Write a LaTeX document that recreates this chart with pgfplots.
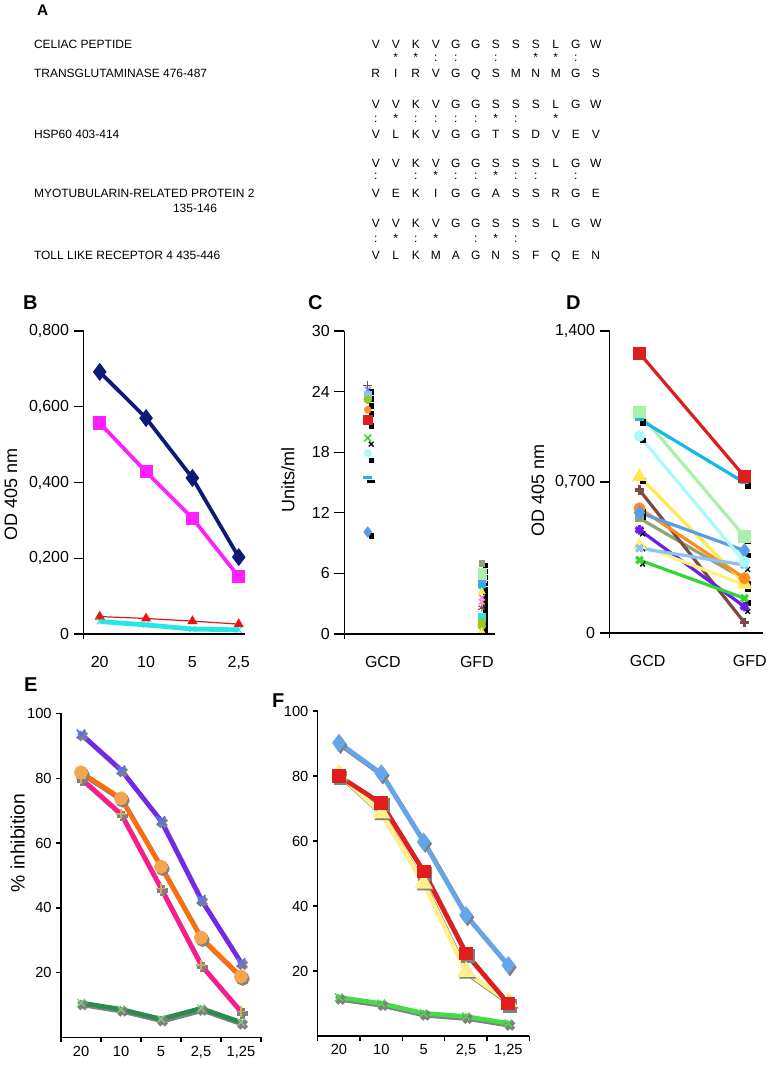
\documentclass[border=0pt]{standalone}
\usepackage{fontspec}
\setmainfont{Liberation Sans}
\usepackage{pgfplots}
\usepackage{pgfplotstable}
\pgfplotsset{compat=1.18}

% colours
\definecolor{bnavy}{RGB}{15,25,120}
\definecolor{bmag}{RGB}{255,30,255}
\definecolor{bred}{RGB}{230,20,20}
\definecolor{bcyan}{RGB}{40,230,230}
\definecolor{cred}{RGB}{220,30,30}
\definecolor{cpgreen}{RGB}{170,240,170}
\definecolor{cdsky}{RGB}{20,185,235}
\definecolor{cpcyan}{RGB}{170,250,250}
\definecolor{cyell}{RGB}{255,232,80}
\definecolor{cbrown}{RGB}{125,75,65}
\definecolor{corange}{RGB}{255,140,30}
\definecolor{ccorn}{RGB}{90,155,235}
\definecolor{colive}{RGB}{140,165,115}
\definecolor{cpurp}{RGB}{105,30,230}
\definecolor{clyel}{RGB}{255,242,130}
\definecolor{csky}{RGB}{140,195,245}
\definecolor{clime}{RGB}{50,215,50}
\definecolor{cygreen}{RGB}{150,200,40}
\definecolor{cpink}{RGB}{250,140,200}
\definecolor{cviolet}{RGB}{130,130,255}
\definecolor{epurp}{RGB}{115,40,235}
\definecolor{epurpm}{RGB}{90,110,255}
\definecolor{eorange}{RGB}{255,110,10}
\definecolor{eorangem}{RGB}{245,165,80}
\definecolor{epink}{RGB}{255,25,140}
\definecolor{epinkm}{RGB}{210,170,90}
\definecolor{egreen}{RGB}{40,140,80}
\definecolor{egreenm}{RGB}{120,210,120}
\definecolor{fblue}{RGB}{100,165,235}
\definecolor{fred}{RGB}{225,30,30}
\definecolor{fyell}{RGB}{255,240,140}
\definecolor{fgreen}{RGB}{70,220,70}
\definecolor{shadowgray}{RGB}{128,128,128}

\pgfplotsset{
  panel/.style={
    scale only axis, anchor=south west, clip=false,
    axis lines=left, axis line style={-, line width=1pt},
    tick align=outside, major tick length=7.5pt,
    ytick style={draw=black, line width=1pt},
    xtick style={draw=none},
    /pgf/number format/assume math mode=true,
    ticklabel style={font=\fontsize{12}{12}\selectfont},
    label style={font=\fontsize{13.5}{14}\selectfont},
  },
  top/.style={
    x axis line style={shorten <=-7.5pt},
    y axis line style={shorten <=-4pt},
  },
  small/.style={
    major tick length=3.5pt,
    ticklabel style={font=\fontsize{11}{11}\selectfont},
    xtick={0,1,2,3,4,5}, xticklabels={},
    xtick style={draw=black, line width=1pt},
    extra x ticks={0.5,1.5,2.5,3.5,4.5},
    extra x tick labels={20,10,5,{2,5},{1,25}},
    extra x tick style={major tick length=0pt, xticklabel style={yshift=-3pt}},
    xmin=0, xmax=5, ymin=0, ymax=100,
    ytick={20,40,60,80,100},
  },
  shadow/.style={draw=shadowgray, xshift=1.2pt, yshift=-1.6pt, line width=3.4pt,
    mark options={draw=shadowgray, fill=shadowgray}},
}

\pgfplotstableread{
x purple orange pink green
0.5 93.7 81.8 80.0 10.7
1.5 82.6 73.8 69.0 8.7
2.5 66.9 52.7 46.0 5.7
3.5 42.6 30.8 22.4 9.0
4.5 23.1 18.8 8.0 4.7
}\Etab

\pgfplotstableread{
x blue red yellow green
0.5 90.2 80.0 80.6 11.9
1.5 80.8 71.6 68.6 10.0
2.5 59.8 50.6 47.0 7.0
3.5 37.2 25.4 19.8 6.0
4.5 21.8 10.0 10.6 3.9
}\Ftab

\begin{document}
\begin{tikzpicture}
\path (0,0) rectangle (574.5pt,802.5pt);

% ---------- panel A (alignment text), pixel coordinates, y down
\begin{scope}[x=0.75pt, y=-0.75pt, yshift=802.5pt,
  every node/.style={inner sep=0pt, anchor=base, font=\fontsize{9}{10}\selectfont}]
\node[anchor=base west, font=\fontsize{11.5}{12}\selectfont\bfseries] at (34,16) {A};
\node[anchor=base west] at (31,49) {CELIAC PEPTIDE};
\node[anchor=base west] at (31,78) {TRANSGLUTAMINASE 476-487};
\node[anchor=base west] at (31,139) {HSP60 403-414};
\node[anchor=base west] at (31,198) {MYOTUBULARIN-RELATED PROTEIN 2};
\node[anchor=base west] at (170,213) {135-146};
\node[anchor=base west] at (31,260) {TOLL LIKE RECEPTOR 4 435-446};
\foreach \yy/\seq in {49/{V,V,K,V,G,G,S,S,S,L,G,W},
                      78/{R,I,R,V,G,Q,S,M,N,M,G,S},
                      109/{V,V,K,V,G,G,S,S,S,L,G,W},
                      139/{V,L,K,V,G,G,T,S,D,V,E,V},
                      168/{V,V,K,V,G,G,S,S,S,L,G,W},
                      198/{V,E,K,I,G,G,A,S,S,R,G,E},
                      228/{V,V,K,V,G,G,S,S,S,L,G,W},
                      260/{V,L,K,M,A,G,N,S,F,Q,E,N}}{
  \foreach \c [count=\i] in \seq {\node at ({373+20*(\i-1)},\yy) {\c};}
}
\foreach \yy/\marks in {62/{2/*,3/*,4/:,5/:,7/:,9/*,10/*,11/:},
                        123/{1/:,2/*,3/:,4/:,5/:,6/:,7/*,8/:,10/*},
                        180/{1/:,3/:,4/*,5/:,6/:,7/*,8/:,9/:,11/:},
                        243/{1/:,2/*,3/:,4/*,6/:,7/*,8/:}}{
  \foreach \p/\s in \marks {\node at ({373+20*(\p-1)},\yy) {\s};}
}
\node[anchor=base west, font=\fontsize{15}{15}\selectfont\bfseries] at (20,310) {B};
\node[anchor=base west, font=\fontsize{15}{15}\selectfont\bfseries] at (305,310) {C};
\node[anchor=base west, font=\fontsize{15}{15}\selectfont\bfseries] at (563,310) {D};
\node[anchor=base west, font=\fontsize{15}{15}\selectfont\bfseries] at (21,692) {E};
\node[anchor=base west, font=\fontsize{15}{15}\selectfont\bfseries] at (269,708) {F};
\end{scope}

% ---------- panel B
\begin{axis}[panel, top, at={(60.75pt,327pt)}, width=120.75pt, height=227.25pt,
  xmin=0.655, xmax=4.13, ymin=0, ymax=0.8,
  xtick={1,2,3,4}, xticklabels={20,10,5,{2,5}},
  xticklabel style={yshift=-6pt},
  ytick={0,0.2,0.4,0.6,0.8}, yticklabels={0,{0,200},{0,400},{0,600},{0,800}},
  ylabel={OD 405 nm},
  ylabel style={at={(axis description cs:-0.453,0.459)}, anchor=center}]
\addplot[bred, line width=0.9pt, mark=triangle*, mark size=3.5pt] coordinates {(1,0.046)(2,0.041)(3,0.034)(4,0.026)};
\addplot[bcyan, line width=3.6pt, mark=x, mark size=3pt, mark options={line width=0.8pt}] coordinates {(1,0.033)(2,0.024)(3,0.013)(4,0.011)};
\addplot[bmag, line width=2.8pt, mark=square*, mark size=3.5pt] coordinates {(1,0.557)(2,0.428)(3,0.306)(4,0.151)};
\addplot[bnavy, line width=2.8pt, mark=diamond*, mark size=4.5pt] coordinates {(1,0.692)(2,0.570)(3,0.412)(4,0.203)};
\end{axis}

% ---------- panel C
\begin{axis}[panel, top, at={(256.3pt,327pt)}, width=113.25pt, height=227.25pt,
  xmin=0.796, xmax=2.12, ymin=0, ymax=30,
  xtick={1.132,1.957}, xticklabels={GCD,GFD},
  xticklabel style={yshift=-6pt},
  ytick={0,6,12,18,24,30},
  ylabel={Units/ml},
  ylabel style={at={(axis description cs:-0.375,0.508)}, anchor=center}]
% black shadow marks
\addplot[only marks, black, mark=square*, mark size=1.7pt] coordinates {
(1.03,24.0)(1.03,23.3)(1.03,22.6)(1.03,21.8)(1.03,20.6)(1.03,17.2)(1.03,9.7)
(2.03,6.8)(2.03,6.2)(2.03,5.6)(2.03,5.0)(2.03,4.4)(2.03,3.8)(2.03,3.2)(2.03,2.6)(2.03,2.0)(2.03,1.4)(2.03,0.8)(2.03,0.2)};
\addplot[only marks, black, mark=x, mark size=2.5pt, mark options={line width=1pt}] coordinates {(1.03,18.8)};
\addplot[only marks, black, mark=-, mark size=3pt, mark options={line width=2pt}] coordinates {(1.03,15.1)};
% GCD
\addplot[only marks, cbrown, mark=+, mark size=3.5pt, mark options={line width=1pt}] coordinates {(1,24.6)};
\addplot[only marks, cviolet, mark=x, mark size=3pt, mark options={line width=1pt}] coordinates {(1,24.2)};
\addplot[only marks, csky, mark=square*, mark size=2.5pt] coordinates {(1,23.7)};
\addplot[only marks, cygreen, mark=*, mark size=3pt] coordinates {(1,23.2)};
\addplot[only marks, corange, mark=*, mark size=2.6pt] coordinates {(1,22.2)};
\addplot[only marks, cred, mark=square*, mark size=3.2pt] coordinates {(1,21.2)};
\addplot[only marks, clime, mark=x, mark size=3.5pt, mark options={line width=1.2pt}] coordinates {(1,19.4)};
\addplot[only marks, cpcyan, mark=*, mark size=2.8pt] coordinates {(1,17.9)};
\addplot[only marks, cdsky, mark=-, mark size=3.5pt, mark options={line width=2.4pt}] coordinates {(1,15.5)};
\addplot[only marks, ccorn, mark=diamond*, mark size=4pt] coordinates {(1,10.1)};
% GFD
\addplot[only marks, colive, mark=square*, mark size=2pt] coordinates {(2,7.0)};
\addplot[only marks, cpgreen, mark=square*, mark size=3pt] coordinates {(2,6.1)(2,5.5)};
\addplot[only marks, ccorn, mark=square*, mark size=2.6pt] coordinates {(2,5.0)};
\addplot[only marks, cdsky, mark=*, mark size=2.4pt] coordinates {(2,4.7)};
\addplot[only marks, cyell, mark=triangle*, mark size=3pt] coordinates {(2,4.2)};
\addplot[only marks, cpink, mark=x, mark size=3pt, mark options={line width=1.2pt}] coordinates {(2,3.6)(2,3.2)};
\addplot[only marks, cbrown, mark=asterisk, mark size=3pt, mark options={line width=0.8pt}] coordinates {(2,2.6)};
\addplot[only marks, bcyan, mark=square*, mark size=2.4pt] coordinates {(2,1.7)};
\addplot[only marks, cygreen, mark=*, mark size=3pt] coordinates {(2,1.2)(2,0.8)};
\addplot[only marks, cyell, mark=triangle*, mark size=2.6pt] coordinates {(2,0.3)};
\end{axis}

% ---------- panel D
\begin{axis}[panel, top, at={(455.25pt,327.75pt)}, width=114.75pt, height=226.5pt,
  xmin=0.717, xmax=2.174, ymin=0, ymax=1.4,
  xtick={1.079,2.05}, xticklabels={GCD,GFD},
  xticklabel style={yshift=-6pt},
  ytick={0,0.7,1.4}, yticklabels={0,{0,700},{1,400}},
  ylabel={OD 405 nm},
  ylabel style={at={(axis description cs:-0.47,0.473)}, anchor=center},
  every axis plot/.append style={line width=2.4pt}]
\addplot[only marks, black, mark=square*, mark size=1.8pt, line width=0.5pt] coordinates {
(1.03,1.280)(1.03,1.000)(1.03,0.973)(1.03,0.893)(1.03,0.705)(1.03,0.560)(1.03,0.540)
(2.03,0.705)(2.03,0.680)(2.03,0.425)(2.03,0.360)(2.03,0.230)(2.03,0.205)(2.03,0.140)};
\addplot[only marks, black, mark=x, mark size=2.6pt, line width=1pt] coordinates {
(1.03,0.460)(1.03,0.390)(1.03,0.320)(2.03,0.295)(2.03,0.100)};
\addplot[colive, mark=square*, mark size=2pt] coordinates {(1,0.532)(2,0.249)};
\addplot[cbrown, mark=+, mark size=3.5pt] coordinates {(1,0.663)(2,0.048)};
\addplot[cpurp, mark=asterisk, mark size=3.5pt] coordinates {(1,0.478)(2,0.122)};
\addplot[clime, mark=x, mark size=3.5pt] coordinates {(1,0.338)(2,0.161)};
\addplot[clyel, mark=triangle*, mark size=3.5pt] coordinates {(1,0.408)(2,0.223)};
\addplot[cyell, mark=triangle*, mark size=4pt] coordinates {(1,0.725)(2,0.230)};
\addplot[corange, mark=*, mark size=3.2pt] coordinates {(1,0.578)(2,0.254)};
\addplot[csky, mark=x, mark size=3.5pt] coordinates {(1,0.393)(2,0.315)};
\addplot[ccorn, mark=diamond*, mark size=3.8pt] coordinates {(1,0.558)(2,0.382)};
\addplot[cpcyan, mark=*, mark size=3pt] coordinates {(1,0.913)(2,0.330)};
\addplot[cpgreen, mark=square*, mark size=3.6pt] coordinates {(1,1.021)(2,0.447)};
\addplot[cdsky, mark=-, mark size=3.5pt] coordinates {(1,0.991)(2,0.697)};
\addplot[cred, mark=square*, mark size=3.6pt] coordinates {(1,1.297)(2,0.725)};
\end{axis}

% ---------- panel E
\begin{axis}[panel, small, at={(43.7pt,24.4pt)}, width=150pt, height=243pt,
  ylabel={\% inhibition},
  label style={font=\fontsize{14.5}{15}\selectfont},
  ylabel style={at={(axis description cs:-0.217,0.6)}, anchor=center}]
\addplot[shadow, mark=x, mark size=4pt] table[x=x,y=green]{\Etab};
\addplot[shadow, mark=+, mark size=4pt] table[x=x,y=pink]{\Etab};
\addplot[shadow, mark=*, mark size=3.5pt] table[x=x,y=orange]{\Etab};
\addplot[shadow, mark=x, mark size=4pt] table[x=x,y=purple]{\Etab};
\addplot[egreen, line width=3.4pt, mark=x, mark size=4pt, mark options={draw=egreenm, line width=1pt}] table[x=x,y=green]{\Etab};
\addplot[epink, line width=3.4pt, mark=+, mark size=4pt, mark options={draw=epinkm, line width=1.2pt}] table[x=x,y=pink]{\Etab};
\addplot[eorange, line width=3.4pt, mark=*, mark size=3.5pt, mark options={draw=eorangem, fill=eorangem}] table[x=x,y=orange]{\Etab};
\addplot[epurp, line width=3.4pt, mark=x, mark size=4.5pt, mark options={draw=epurpm, line width=1.4pt}] table[x=x,y=purple]{\Etab};
\end{axis}

% ---------- panel F
\begin{axis}[panel, small, at={(236.25pt,25.5pt)}, width=158.8pt, height=243.75pt]
\addplot[shadow, mark=x, mark size=4pt] table[x=x,y=green]{\Ftab};
\addplot[shadow, mark=triangle*, mark size=4pt] table[x=x,y=yellow]{\Ftab};
\addplot[shadow, mark=square*, mark size=3.5pt] table[x=x,y=red]{\Ftab};
\addplot[shadow, mark=diamond*, mark size=4pt] table[x=x,y=blue]{\Ftab};
\addplot[fgreen, line width=3.4pt, mark=x, mark size=4pt, mark options={line width=1.2pt}] table[x=x,y=green]{\Ftab};
\addplot[fyell, line width=3.4pt, mark=triangle*, mark size=4.5pt] table[x=x,y=yellow]{\Ftab};
\addplot[fred, line width=3.4pt, mark=square*, mark size=3.5pt] table[x=x,y=red]{\Ftab};
\addplot[fblue, line width=3.4pt, mark=diamond*, mark size=4pt] table[x=x,y=blue]{\Ftab};
\end{axis}
\end{tikzpicture}
\end{document}
